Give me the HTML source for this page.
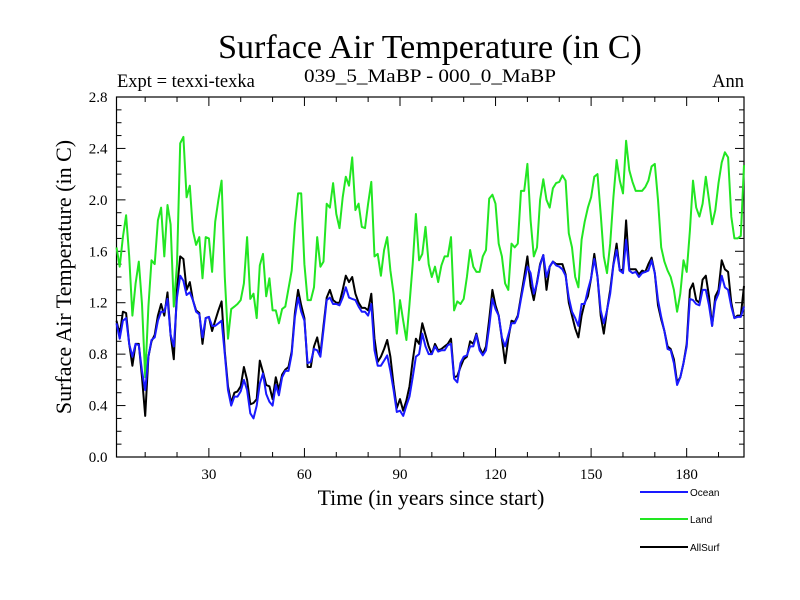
<!DOCTYPE html>
<html><head><meta charset="utf-8"><style>
body{margin:0;background:#fff}
svg{display:block}
text{font-family:"Liberation Serif",serif;fill:#000}
</style></head><body>
<svg id="chart" width="800" height="600" xmlns="http://www.w3.org/2000/svg">
<text x="430" y="58" text-anchor="middle" font-size="34">Surface Air Temperature (in C)</text>
<text x="117" y="87" font-size="18.5">Expt = texxi-texka</text>
<text x="430" y="82" text-anchor="middle" font-size="18.5" textLength="252" lengthAdjust="spacingAndGlyphs">039_5_MaBP - 000_0_MaBP</text>
<text x="744" y="87" text-anchor="end" font-size="18.5">Ann</text>
<text transform="translate(71,277) rotate(-90)" text-anchor="middle" font-size="22">Surface Air Temperature (in C)</text>
<text x="431" y="505" text-anchor="middle" font-size="21.8">Time (in years since start)</text>
<g id="axes"></g>
<g id="series"></g>
<g id="legend"></g>
</svg>
<script>
const years = []; for (let y = 1; y <= 198; y++) years.push(y);
const ocean = [1.04,0.92,1.06,1.08,0.88,0.78,0.88,0.87,0.67,0.52,0.78,0.91,0.93,1.06,1.13,1.13,1.23,0.95,0.86,1.24,1.41,1.37,1.26,1.28,1.22,1.13,1.11,0.93,1.08,1.09,1.02,1.02,1.04,1.06,0.80,0.52,0.40,0.47,0.47,0.51,0.60,0.52,0.34,0.30,0.40,0.57,0.65,0.49,0.43,
0.40,0.56,0.48,0.62,0.67,0.67,0.80,1.09,1.24,1.13,1.06,0.73,0.74,0.84,0.83,0.78,0.99,1.22,1.24,1.19,1.19,1.18,1.24,1.32,1.24,1.23,1.22,1.17,1.13,1.13,1.10,1.19,0.83,0.71,0.71,0.75,0.79,0.67,0.52,0.35,0.36,0.32,0.40,0.47,0.62,0.78,0.80,0.96,0.86,0.80,
0.80,0.86,0.82,0.83,0.83,0.87,0.88,0.61,0.58,0.73,0.78,0.79,0.86,0.86,0.95,0.83,0.79,0.83,1.01,1.23,1.15,1.10,0.93,0.86,0.95,1.04,1.04,1.09,1.23,1.36,1.48,1.43,1.27,1.35,1.49,1.57,1.40,1.48,1.52,1.49,1.48,1.46,1.41,1.24,1.13,1.08,1.02,1.19,1.19,1.30,
1.39,1.54,1.40,1.14,1.04,1.14,1.27,1.49,1.61,1.45,1.43,1.69,1.45,1.43,1.44,1.40,1.43,1.44,1.45,1.53,1.43,1.22,1.09,0.98,0.84,0.83,0.73,0.56,0.62,0.73,0.86,1.23,1.22,1.19,1.18,1.30,1.30,1.18,1.02,1.21,1.27,1.41,1.32,1.30,1.17,1.08,1.09,1.09,1.17];
const land = [1.63,1.48,1.71,1.88,1.56,1.10,1.35,1.52,1.19,0.62,1.17,1.53,1.50,1.84,1.94,1.56,1.96,1.81,1.17,1.50,2.44,2.49,2.02,2.11,1.76,1.65,1.71,1.39,1.71,1.70,1.44,1.83,2.00,2.15,1.40,0.92,1.15,1.17,1.19,1.22,1.35,1.71,1.23,1.27,1.08,1.49,1.58,1.25,1.39,
1.14,1.14,1.04,1.15,1.17,1.31,1.45,1.81,2.05,2.05,1.50,1.22,1.22,1.32,1.71,1.48,1.52,1.97,1.94,2.13,1.89,1.78,2.02,2.18,2.11,2.33,1.92,1.97,1.79,1.78,1.97,2.14,1.56,1.58,1.41,1.61,1.71,1.45,1.27,0.96,1.22,1.06,0.91,1.19,1.50,1.89,1.53,1.58,1.79,1.50,
1.40,1.48,1.36,1.49,1.56,1.56,1.71,1.14,1.21,1.19,1.23,1.40,1.61,1.48,1.44,1.44,1.56,1.61,2.01,2.04,1.97,1.66,1.56,1.35,1.30,1.66,1.63,1.66,2.07,2.07,2.28,1.84,1.56,1.63,2.00,2.16,2.00,1.94,2.09,2.13,2.14,2.19,2.15,1.74,1.63,1.40,1.32,1.69,1.83,1.94,
2.02,2.18,2.20,1.89,1.56,1.43,1.66,2.02,2.31,2.15,2.05,2.46,2.23,2.14,2.07,2.07,2.07,2.10,2.15,2.26,2.28,2.00,1.63,1.52,1.45,1.40,1.30,1.13,1.27,1.53,1.44,1.76,2.15,1.94,1.87,1.97,2.18,2.00,1.81,1.92,2.13,2.29,2.37,2.33,1.87,1.70,1.70,1.72,2.27];
const allsurf = [1.06,0.95,1.13,1.12,0.88,0.71,0.88,0.88,0.62,0.32,0.78,0.90,0.95,1.10,1.19,1.10,1.28,0.95,0.76,1.30,1.56,1.54,1.30,1.36,1.22,1.14,1.12,0.88,1.08,1.09,0.98,1.06,1.14,1.21,0.82,0.55,0.42,0.50,0.51,0.55,0.70,0.60,0.41,0.42,0.45,0.75,0.66,0.56,0.55,
0.45,0.62,0.52,0.64,0.68,0.70,0.82,1.12,1.30,1.18,1.08,0.70,0.70,0.86,0.93,0.80,1.02,1.24,1.30,1.22,1.20,1.20,1.30,1.41,1.36,1.40,1.27,1.20,1.16,1.16,1.14,1.27,0.92,0.74,0.78,0.84,0.91,0.78,0.56,0.38,0.45,0.36,0.44,0.55,0.75,0.92,0.88,1.04,0.95,0.86,
0.80,0.88,0.83,0.84,0.86,0.88,0.92,0.62,0.63,0.70,0.76,0.78,0.90,0.88,0.96,0.85,0.80,0.86,1.07,1.30,1.18,1.10,0.92,0.73,0.92,1.06,1.05,1.10,1.25,1.40,1.56,1.33,1.22,1.36,1.50,1.57,1.30,1.48,1.52,1.50,1.50,1.50,1.42,1.20,1.10,1.00,0.93,1.10,1.20,1.25,
1.39,1.58,1.40,1.10,0.96,1.14,1.30,1.50,1.66,1.45,1.46,1.84,1.46,1.46,1.46,1.42,1.45,1.44,1.50,1.55,1.43,1.18,1.07,0.98,0.86,0.84,0.76,0.58,0.62,0.73,0.88,1.30,1.35,1.22,1.20,1.38,1.41,1.25,1.02,1.25,1.30,1.53,1.46,1.44,1.20,1.08,1.10,1.10,1.33];
const yTickLabels = ["0.0","0.4","0.8","1.2","1.6","2.0","2.4","2.8"];
const xTickLabels = ["30","60","90","120","150","180"];

const NS = "http://www.w3.org/2000/svg";
const L = 116.5, R = 744, T = 97, B = 457;
const xMin = 1, xMax = 198, yMin = 0, yMax = 2.8;
const sx = v => L + (v - xMin) / (xMax - xMin) * (R - L);
const sy = v => B - (v - yMin) / (yMax - yMin) * (B - T);
function mk(tag, attrs, parent) {
  const e = document.createElementNS(NS, tag);
  for (const k in attrs) e.setAttribute(k, attrs[k]);
  parent.appendChild(e);
  return e;
}
const axes = document.getElementById('axes');
const frame = mk('rect', {x: L, y: T, width: R - L, height: B - T, fill: 'none', stroke: '#000', 'stroke-width': 1.2}, axes);


for (let i = 0; i <= 28; i++) {
  const v = i / 10, y = sy(v), len = (i % 4 === 0) ? 9 : 5;
  mk('line', {x1: L, x2: L + len, y1: y, y2: y, stroke: '#000'}, axes);
  mk('line', {x1: R, x2: R - len, y1: y, y2: y, stroke: '#000'}, axes);
}
yTickLabels.forEach(s => {
  const t = mk('text', {x: L - 9, y: sy(parseFloat(s)) + 5, 'text-anchor': 'end', 'font-size': 15}, axes);
  t.textContent = s;
  
  
});
for (let v = 10; v <= xMax; v += 10) {
  const x = sx(v), len = (v % 30 === 0) ? 9 : 5;
  mk('line', {x1: x, x2: x, y1: B, y2: B - len, stroke: '#000'}, axes);
  mk('line', {x1: x, x2: x, y1: T, y2: T + len, stroke: '#000'}, axes);
}
xTickLabels.forEach(s => {
  const t = mk('text', {x: sx(parseFloat(s)), y: B + 22, 'text-anchor': 'middle', 'font-size': 15}, axes);
  t.textContent = s;
  
  
});
const series = document.getElementById('series');
function drawLine(vals, color, name) {
  const d = vals.map((v, i) => (i ? 'L' : 'M') + sx(years[i]).toFixed(1) + ',' + sy(v).toFixed(1)).join('');
  const p = mk('path', {d: d, fill: 'none', stroke: color, 'stroke-width': 2, 'stroke-linejoin': 'round'}, series);
  
  
}
drawLine(land, '#22e622', 'land-line');
drawLine(allsurf, '#000000', 'allsurf-line');
drawLine(ocean, '#1a1aff', 'ocean-line');
const legend = document.getElementById('legend');
[['Ocean', '#1a1aff', 492], ['Land', '#22e622', 519], ['AllSurf', '#000000', 547]].forEach(([lab, c, y]) => {
  const g = mk('g', {}, legend);
  
  
  mk('line', {x1: 640, x2: 688, y1: y, y2: y, stroke: c, 'stroke-width': 2}, g);
  const t = mk('text', {x: 690, y: y + 4, 'font-size': 10, style: 'font-family:"Liberation Sans",sans-serif'}, g);
  t.textContent = lab;
});
</script>
</body></html>
